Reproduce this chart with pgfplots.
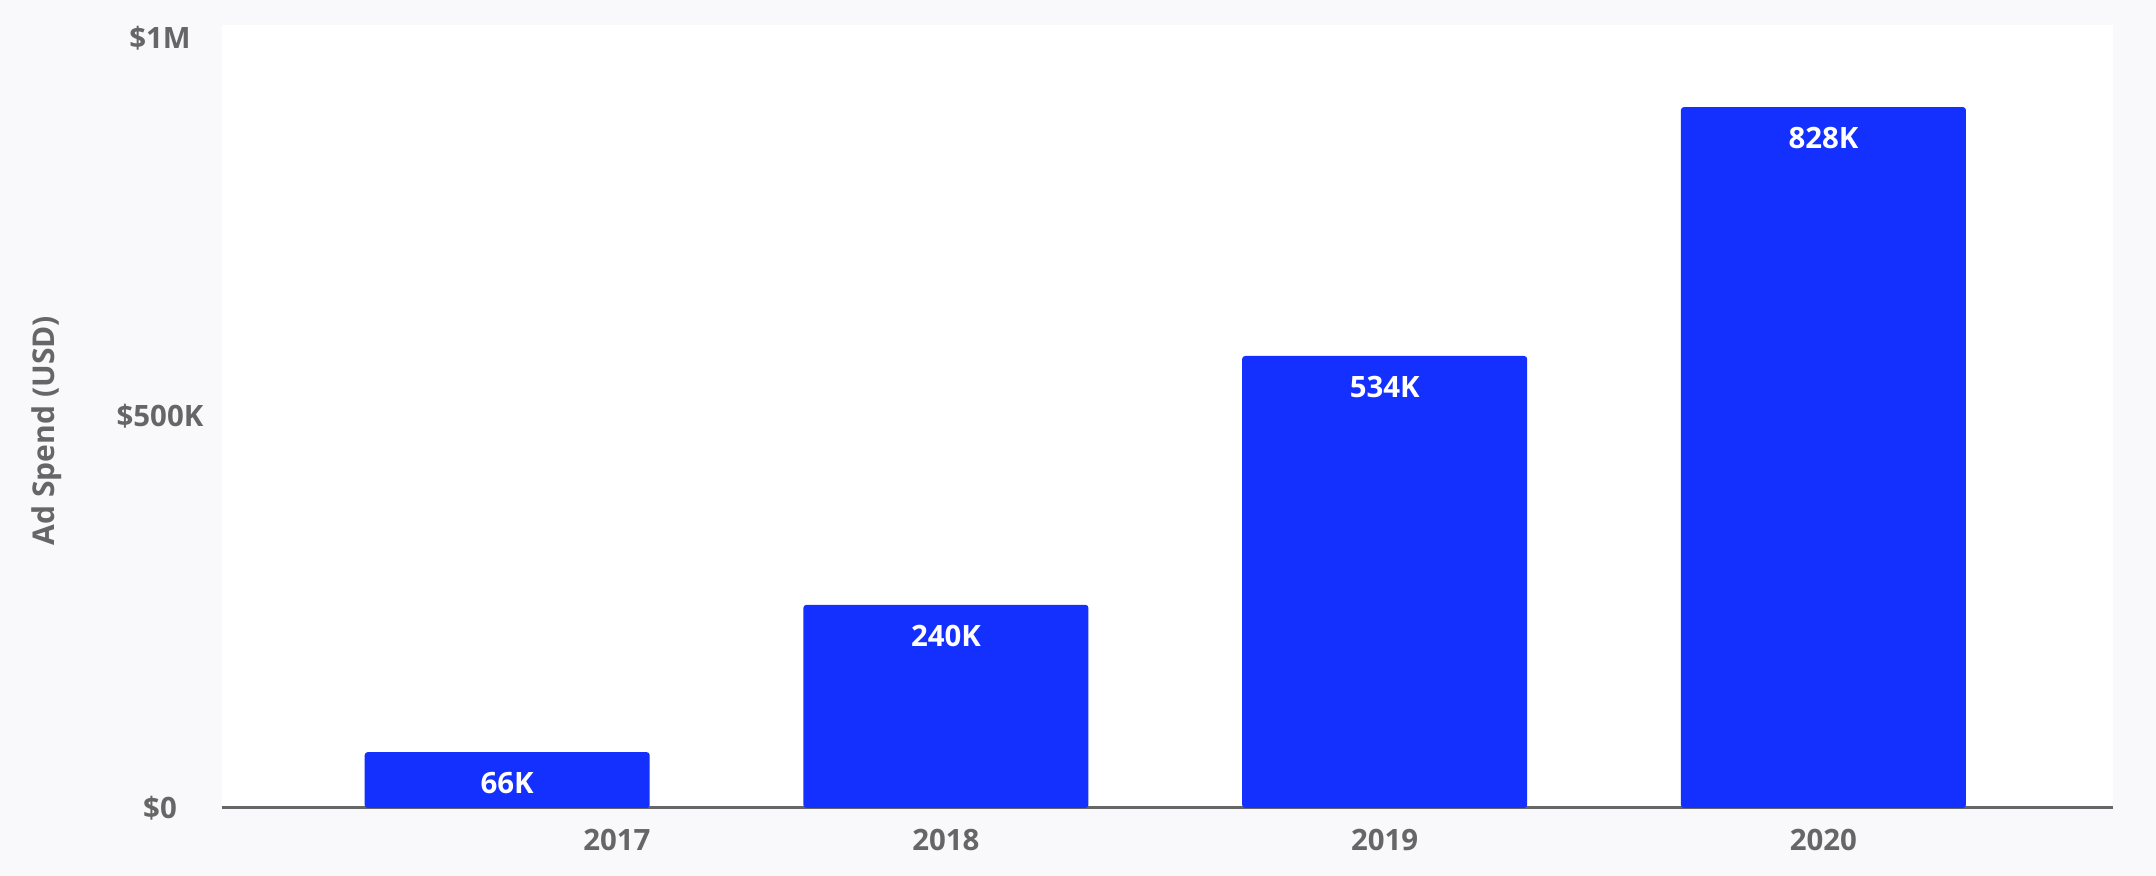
\documentclass[border=0pt]{standalone}
\usepackage{fontspec}
\setmainfont{Open Sans}
\usepackage{pgfplots}
\pgfplotsset{compat=1.18}
\definecolor{bgc}{HTML}{F9F9FB}
\definecolor{barc}{HTML}{1330FF}
\definecolor{txt}{HTML}{666666}
\begin{document}
\begin{tikzpicture}
\fill[bgc] (-111bp,-34bp) rectangle (967bp,404bp);
\begin{axis}[
  scale only axis,
  width=945.5bp, height=391.5bp,
  xmin=-0.65, xmax=3.66,
  ymin=0, ymax=925,
  axis background/.style={fill=white},
  axis x line*=bottom,
  axis y line*=left,
  x axis line style={draw=txt, line width=1.5bp, -},
  y axis line style={draw=none},
  major tick length=0,
  xtick={0.25,1,2,3},
  xticklabels={2017,2018,2019,2020},
  ytick={0,463,909},
  yticklabels={\$0,\$500K,\$1M},
  tick label style={font=\fontsize{14.7bp}{17bp}\selectfont\bfseries, text=txt},
  xticklabel style={anchor=center, yshift=-16bp},
  yticklabel style={anchor=center, xshift=-31bp},
  ylabel={Ad Spend (USD)},
  ylabel style={font=\fontsize{15bp}{17bp}\selectfont\bfseries, text=txt, at={(axis description cs:0,0.482)}, anchor=center, rotate=0, yshift=87.5bp},
  ybar, bar width=142.5bp,
  point meta=explicit symbolic,
  nodes near coords,
  every node near coord/.append style={font=\fontsize{14.7bp}{17bp}\selectfont\bfseries, text=white, anchor=center, yshift=-15.5bp},
  clip=false,
]
\addplot[fill=barc, draw=none, rounded corners=1.5bp] coordinates {
  (0,66) [66K]
  (1,240) [240K]
  (2,534) [534K]
  (3,828) [828K]
};
\end{axis}
\pgfresetboundingbox
\path[use as bounding box] (-111bp,-34bp) rectangle (967bp,404bp);
\end{tikzpicture}
\end{document}
